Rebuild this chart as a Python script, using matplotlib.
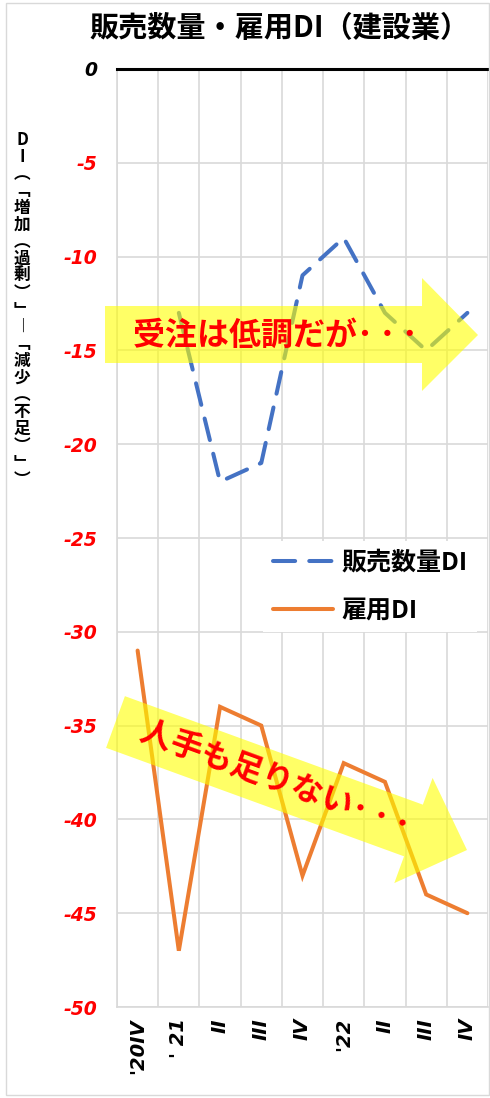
import numpy as np
import matplotlib
matplotlib.use("Agg")
import matplotlib.pyplot as plt
from matplotlib.patches import Polygon, Rectangle

plt.rcParams['font.family'] = ['Noto Sans CJK JP', 'DejaVu Sans']

# ---- data ----
categories = ["'20IV", "' 21", "II", "III", "IV", "'22", "II", "III", "IV"]
sales_di = [np.nan, -13, -22, -21, -11, -9, -13, -15, -13]
employ_di = [-31, -47, -34, -35, -43, -37, -38, -44, -45]
yticks = [0, -5, -10, -15, -20, -25, -30, -35, -40, -45, -50]
ytick_labels = ["0", "-5", "-10", "-15", "-20", "-25", "-30", "-35", "-40", "-45", "-50"]
title = "販売数量・雇用DI（建設業）"
ylabel_chars = ["D", "I", "︵", "﹁", "増", "加", "︵", "過", "剰", "︶", "﹂", "︱",
                "﹁", "減", "少", "︵", "不", "足", "︶", "﹂", "︶"]
note1 = "受注は低調だが･\u2009･\u2009･"
note2 = "人手も足りない･\u2009･\u2009･"
legend_labels = ["販売数量DI", "雇用DI"]

W, H = 490, 1098
fig = plt.figure(figsize=(W / 100, H / 100), dpi=100)

def px(x, y):
    return (x / W, 1 - y / H)

ax = fig.add_axes([117 / W, 1 - 1007 / H, (488 - 117) / W, (1007 - 69) / H])
x = np.arange(len(categories))

ax.plot(x, sales_di, color="#4472C4", lw=2.9, dashes=[5.5, 3.5],
        solid_capstyle="round", dash_capstyle="round", label=legend_labels[0], zorder=3)
ax.plot(x, employ_di, color="#ED7D31", lw=2.9, solid_capstyle="round",
        solid_joinstyle="miter", label=legend_labels[1], zorder=3)

ax.set_xlim(-0.5, len(categories) - 0.5)
ax.set_ylim(-50, 0)
ax.set_yticks(yticks)
ax.set_yticklabels(ytick_labels, family="DejaVu Sans", fontweight="bold",
                   fontstyle="italic", fontsize=13.5)
for lbl, v in zip(ax.get_yticklabels(), yticks):
    lbl.set_color("black" if v == 0 else "#FF0000")
ax.tick_params(axis="y", length=0, pad=14)

ax.set_xticks(x)
ax.set_xticklabels(categories, rotation=90, family="DejaVu Sans",
                   fontweight="bold", fontstyle="italic", fontsize=14)
ax.tick_params(axis="x", length=0, pad=8)

# grid
ax.set_xticks(np.arange(-0.5, len(categories), 1), minor=True)
ax.grid(which="minor", axis="x", color="#d9d9d9", lw=1.2)
ax.grid(which="major", axis="y", color="#d9d9d9", lw=1.2)
ax.grid(which="major", axis="x", visible=False)
ax.tick_params(which="minor", length=0)
for s in ["left", "bottom", "right"]:
    ax.spines[s].set_color("#d9d9d9")
    ax.spines[s].set_linewidth(1.2)
ax.spines["right"].set_visible(False)
ax.spines["top"].set_color("black")
ax.spines["top"].set_linewidth(2.2)
ax.spines["top"].set_zorder(5)

leg = ax.legend(loc="upper left", bbox_to_anchor=((250 - 117) / 371, 1 - (528 - 69) / 938),
                frameon=True, fancybox=False, framealpha=1, edgecolor="none",
                prop={"family": ["Noto Sans CJK JP", "DejaVu Sans"], "weight": "bold", "size": 18},
                handlelength=2.4, labelspacing=0.95, borderpad=0.4, handletextpad=0.35)

# title
fig.text(*px(280, 28), title, ha="center", va="center", fontsize=21, fontweight="bold")

# vertical y label (stacked upright characters)
for i, ch in enumerate(ylabel_chars):
    fig.text(*px(22, 140 + i * 17), ch, ha="center", va="center", fontsize=12,
             fontweight="bold", family=["Noto Sans CJK JP", "DejaVu Sans"])

# arrow 1 (horizontal)
arrow1 = [(105, 306), (422, 306), (422, 278), (478, 335), (422, 391), (422, 363), (105, 363)]
fig.patches.append(Polygon([px(a, b) for a, b in arrow1], closed=True,
                           transform=fig.transFigure, facecolor="#FFFF00",
                           edgecolor="none", alpha=0.6, zorder=10))
fig.text(*px(275, 336), note1, ha="center", va="center", fontsize=23,
         fontweight="bold", color="#FF0000", zorder=11)

# arrow 2 (down-right)
start = np.array([115.5, 722.0])
tip = np.array([467.0, 850.0])
d = tip - start
L = np.hypot(*d)
u = d / L
n = np.array([-u[1], u[0]])
hb = 27.5
hh = 56
hl = 57
base = tip - u * hl
pts = [start + n * hb, base + n * hb, base + n * hh, tip, base - n * hh, base - n * hb, start - n * hb]
fig.patches.append(Polygon([px(*p) for p in pts], closed=True, transform=fig.transFigure,
                           facecolor="#FFFF00", edgecolor="none", alpha=0.6, zorder=10))
ang = -np.degrees(np.arctan2(d[1], d[0]))
fig.text(*px(275, 779), note2, ha="center", va="center", fontsize=23,
         fontweight="bold", color="#FF0000", rotation=ang, rotation_mode="anchor", zorder=11)

# figure border
fig.patches.append(Rectangle(px(6, 1095), (489 - 6) / W, (1095 - 3) / H,
                             transform=fig.transFigure, fill=False,
                             edgecolor="#d9d9d9", lw=1))

fig.savefig("out.png", dpi=100)
